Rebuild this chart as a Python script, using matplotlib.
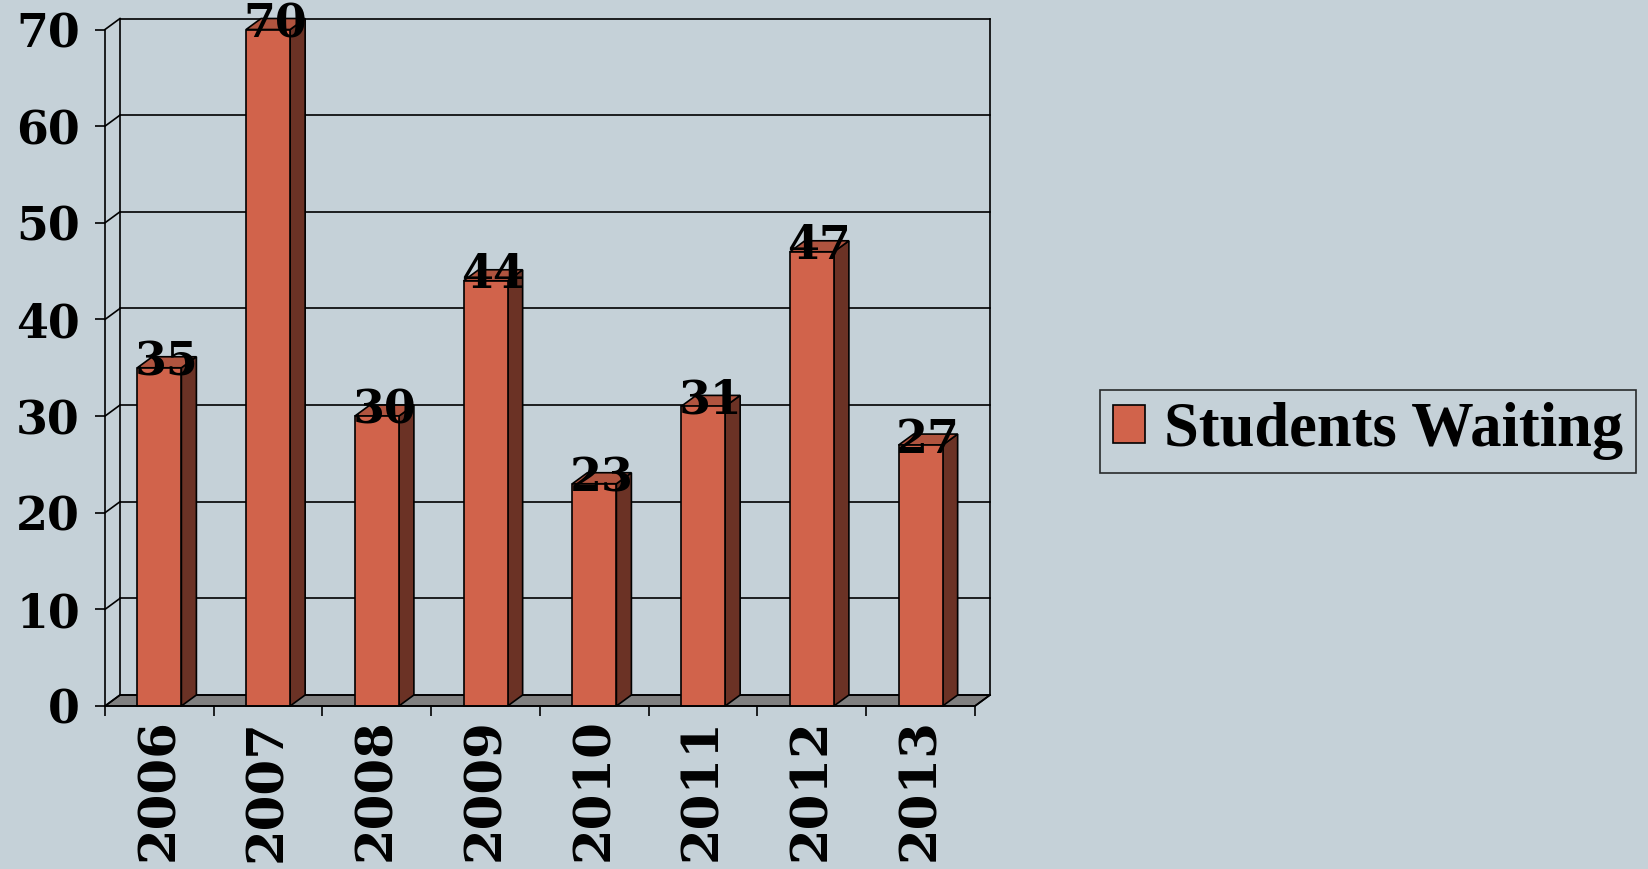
import matplotlib
matplotlib.use("Agg")
import matplotlib.pyplot as plt
from matplotlib.patches import Polygon
import numpy as np

years = ["2006", "2007", "2008", "2009", "2010", "2011", "2012", "2013"]
waiting = [35, 70, 30, 44, 23, 31, 47, 27]
series_name = "Students Waiting"
yticks = [0, 10, 20, 30, 40, 50, 60, 70]

BG = "#C5D1D8"
FRONT = "#D1634B"
SIDE = "#6B3225"
TOP = "#B0543F"
FLOOR = "#808080"

plt.rcParams['font.family'] = ['Liberation Serif', 'DejaVu Serif']
plt.rcParams['font.weight'] = 'bold'
NUMFONT = ['DejaVu Serif']

fig = plt.figure(figsize=(16.49, 8.69), dpi=100, facecolor=BG)
W, H = 1649, 869
# front plane of the plot, in pixels: x 105..975, y 706..29.5
ax = fig.add_axes([105 / W, 1 - 706 / H, 870 / W, 676.5 / H])
ax.set_facecolor("none")
n = len(years)
ax.set_xlim(-0.5, n - 0.5)
ax.set_ylim(0, 70)

# depth of the 3d effect, pixels -> data units
px_x = 870 / n
px_y = 676.5 / 70
dx = 15 / px_x
dy = 11 / px_y
lw = 1.2

x0, x1 = -0.5, n - 0.5
# floor
ax.add_patch(Polygon([(x0, 0), (x1, 0), (x1 + dx, dy), (x0 + dx, dy)],
                     closed=True, facecolor=FLOOR, edgecolor="black", lw=lw,
                     clip_on=False, zorder=1))
# back wall gridlines and connectors
for v in yticks:
    ax.plot([x0 + dx, x1 + dx], [v + dy, v + dy], color="black", lw=lw,
            clip_on=False, zorder=1.5)
    ax.plot([x0, x0 + dx], [v, v + dy], color="black", lw=lw,
            clip_on=False, zorder=1.5)
ax.plot([x0 + dx, x0 + dx], [dy, 70 + dy], color="black", lw=lw, clip_on=False, zorder=1.5)
ax.plot([x1 + dx, x1 + dx], [dy, 70 + dy], color="black", lw=lw, clip_on=False, zorder=1.5)
ax.plot([x1, x1 + dx], [0, dy], color="black", lw=lw, clip_on=False, zorder=1.5)

# bars
bw = 0.405
for i, v in enumerate(waiting):
    l, r = i - bw / 2, i + bw / 2
    ax.add_patch(Polygon([(r, 0), (r + dx, dy), (r + dx, v + dy), (r, v)],
                         closed=True, facecolor=SIDE, edgecolor="black", lw=lw,
                         clip_on=False, zorder=3))
    ax.add_patch(Polygon([(l, v), (r, v), (r + dx, v + dy), (l + dx, v + dy)],
                         closed=True, facecolor=TOP, edgecolor="black", lw=lw,
                         clip_on=False, zorder=3))
bars = ax.bar(range(n), waiting, width=bw, color=FRONT, edgecolor="black",
              lw=lw, zorder=3, clip_on=False, label=series_name)

for i, v in enumerate(waiting):
    ax.text(i + dx / 2, v + dy / 2, str(v), ha="center", va="center",
            fontsize=33, fontweight="bold", family=NUMFONT, zorder=5, clip_on=False)

# axes
for s in ["top", "right"]:
    ax.spines[s].set_visible(False)
for s in ["left", "bottom"]:
    ax.spines[s].set_linewidth(lw)
    ax.spines[s].set_zorder(4)
ax.set_yticks(yticks)
ax.set_yticklabels([str(t) for t in yticks], fontsize=33, fontweight="bold",
                   family=NUMFONT)
ax.tick_params(axis="y", direction="out", length=7, width=lw, pad=11)
ax.set_xticks(range(n))
ax.set_xticklabels(years, rotation=90, fontsize=37, fontweight="bold",
                   family=NUMFONT, va="top", ha="center")
ax.set_xticks(np.arange(n + 1) - 0.5, minor=True)
ax.tick_params(axis="x", which="major", length=0, pad=9)
ax.tick_params(axis="x", which="minor", direction="out", length=7.5, width=lw)

leg = fig.legend(handles=[bars], labels=[series_name], loc="center",
                 bbox_to_anchor=(1368 / W, 1 - 431 / H),
                 prop={"size": 45, "weight": "bold"},
                 fancybox=False, frameon=True, edgecolor="black",
                 facecolor="none", handlelength=0.52, handleheight=0.55,
                 handletextpad=0.3, borderpad=0.2, borderaxespad=0)
leg.get_frame().set_linewidth(lw)

fig.savefig("out.png", dpi=100, facecolor=BG)
